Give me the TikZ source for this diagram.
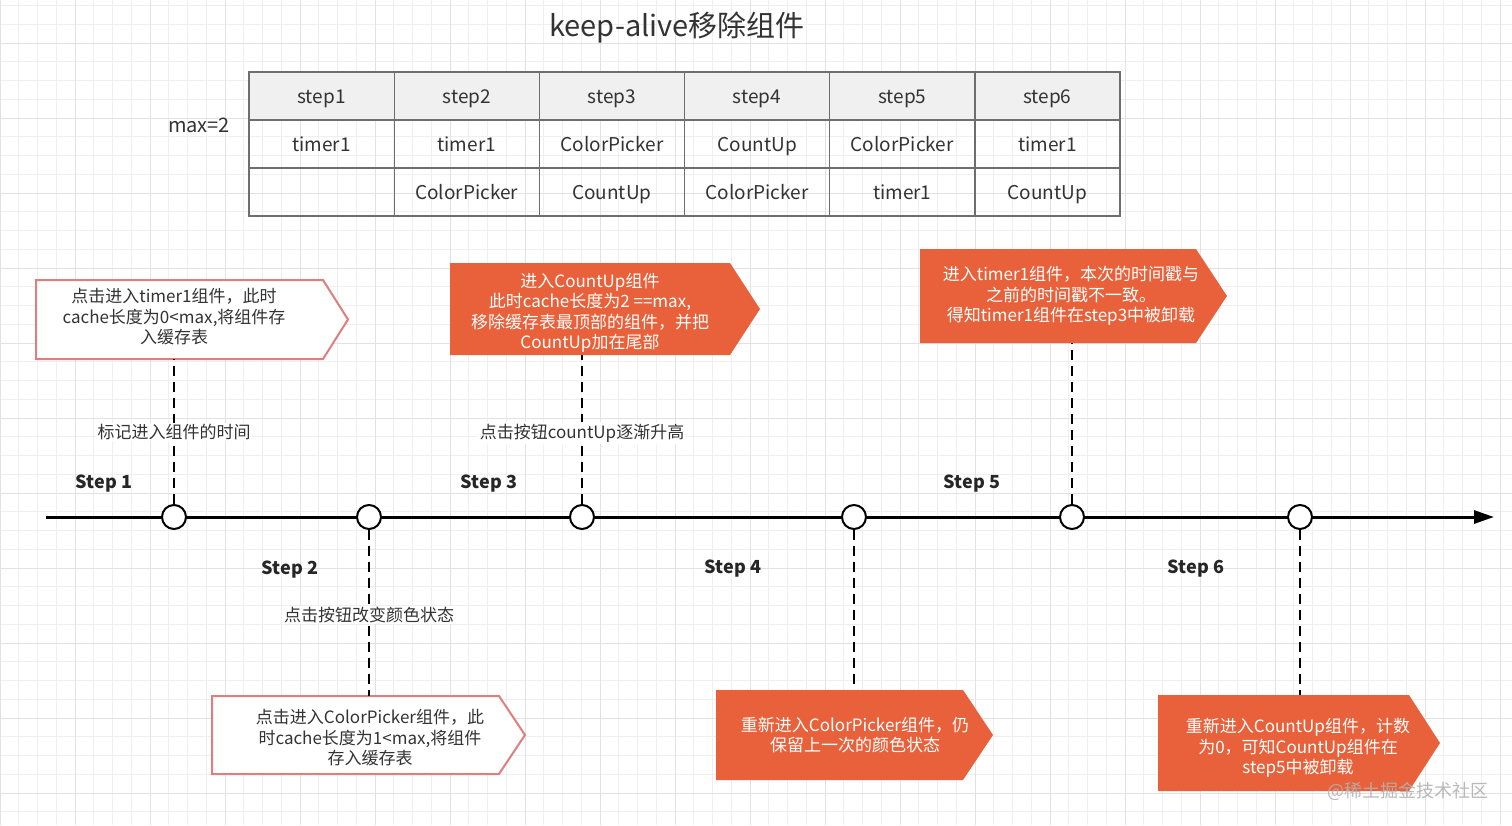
\documentclass[tikz,border=0pt]{standalone}
\usepackage{fontspec}
\setmainfont{Noto Sans CJK SC}
\usetikzlibrary{arrows.meta}
\definecolor{orangefill}{HTML}{E8613A}
\definecolor{pinkline}{HTML}{DE7E7E}
\definecolor{txtgray}{HTML}{333333}
\definecolor{gridminor}{HTML}{EFEFEF}
\definecolor{gridmajor}{HTML}{E2E2E2}
\definecolor{hdrfill}{HTML}{F0F0F0}
\definecolor{tblline}{HTML}{6E6E6E}
\begin{document}
\begin{tikzpicture}[x=1pt,y=-1pt,
  cell/.style={draw=tblline, line width=1.3pt, minimum width=145.17pt, minimum height=48pt, inner sep=0pt, text=txtgray, font=\fontsize{19}{22}\selectfont, text height=16pt, text depth=2pt},
  hdr/.style={cell, fill=hdrfill},
  tnode/.style={circle, draw=black, fill=white, line width=2pt, minimum size=24pt, inner sep=0pt},
  vline/.style={draw=black, line width=2pt, dash pattern=on 10pt off 6pt},
  lbl/.style={fill=white, inner sep=1.5pt, text=txtgray, font=\fontsize{17}{20}\selectfont},
  steplbl/.style={text=black!85, font=\fontsize{18}{22}\selectfont\bfseries, text height=16pt, text depth=2pt},
  ctext/.style={align=center, inner sep=0pt, font=\fontsize{17}{20.5}\selectfont},
  whitebox/.style={fill=white, draw=pinkline, line width=2pt, line join=miter},
  orangebox/.style={fill=orangefill, draw=none},
]
\useasboundingbox (0,0) rectangle (1512,825);
\fill[white] (0,0) rectangle (1512,825);
% grid
\foreach \i in {0,...,80} {\draw[gridminor, line width=1pt] ({\i*18.75},0) -- ({\i*18.75},825);}
\foreach \i in {0,...,43} {\draw[gridminor, line width=1pt] (0,{5.5+\i*18.75}) -- (1512,{5.5+\i*18.75});}
\foreach \i in {0,...,20} {\draw[gridmajor, line width=1pt] ({\i*75},0) -- ({\i*75},825);}
\foreach \i in {0,...,10} {\draw[gridmajor, line width=1pt] (0,{43+\i*75}) -- (1512,{43+\i*75});}

% title
\node[text=txtgray, font=\fontsize{29}{34}\selectfont] (title) at (677,28) {keep-alive移除组件};

% table
\node[text=txtgray, font=\fontsize{20}{24}\selectfont] (maxlbl) at (199,125) {max=2};
\foreach \t [count=\i from 0] in {step1,step2,step3,step4,step5,step6}
  \node[hdr] (h\i) at ({249+72.58+145.17*\i},96) {\t};
\foreach \t [count=\i from 0] in {timer1,timer1,ColorPicker,CountUp,ColorPicker,timer1}
  \node[cell] (ra\i) at ({249+72.58+145.17*\i},144) {\t};
\foreach \t [count=\i from 0] in {{},ColorPicker,CountUp,ColorPicker,timer1,CountUp}
  \node[cell] (rb\i) at ({249+72.58+145.17*\i},192) {\t};

% callout shapes
\path[whitebox] (36,280) -- (323,280) -- (348,319.5) -- (323,359) -- (36,359) -- cycle;
\path[orangebox] (450,263) -- (730,263) -- (760,309) -- (730,355) -- (450,355) -- cycle;
\path[orangebox] (920,249) -- (1196,249) -- (1227,296) -- (1196,343) -- (920,343) -- cycle;
\path[whitebox] (212,696) -- (499,696) -- (525,735) -- (499,774) -- (212,774) -- cycle;
\path[orangebox] (716,690) -- (963,690) -- (993,735) -- (963,780) -- (716,780) -- cycle;
\path[orangebox] (1158,695) -- (1409,695) -- (1440,743) -- (1409,791) -- (1158,791) -- cycle;

\coordinate (b1) at (174,359);
\coordinate (b2) at (369,696);
\coordinate (b3) at (582,355);
\coordinate (b4) at (854,690);
\coordinate (b5) at (1072,343);
\coordinate (b6) at (1300,695);

\node[ctext, text=txtgray] (c1) at (174,317) {点击进入timer1组件，此时\\cache长度为0<max,将组件存\\入缓存表};
\node[ctext, text=white] (c2) at (590,313) {进入CountUp组件\\此时cache长度为2 ==max,\\移除缓存表最顶部的组件，并把\\CountUp加在尾部};
\node[ctext, text=white] (c3) at (1071,296) {进入timer1组件，本次的时间戳与\\之前的时间戳不一致。\\得知timer1组件在step3中被卸载};
\node[ctext, text=txtgray] (c4) at (370,738) {点击进入ColorPicker组件，此\\时cache长度为1<max,将组件\\存入缓存表};
\node[ctext, text=white] (c5) at (855,735) {重新进入ColorPicker组件，仍\\保留上一次的颜色状态};
\node[ctext, text=white] (c6) at (1298,748) {重新进入CountUp组件，计数\\为0，可知CountUp组件在\\step5中被卸载};

% timeline
\coordinate (ls) at (46,517);
\coordinate (le) at (1494,517);
\draw[line width=3pt, -{Triangle[length=20pt,width=13pt]}] (ls) -- (le);

\node[tnode] (t1) at (174,517) {};
\node[tnode] (t2) at (369,517) {};
\node[tnode] (t3) at (582,517) {};
\node[tnode] (t4) at (854,517) {};
\node[tnode] (t5) at (1072,517) {};
\node[tnode] (t6) at (1300,517) {};

\draw[vline] (t1.north) -- (b1);
\draw[vline] (t2.south) -- (b2);
\draw[vline] (t3.north) -- (b3);
\draw[vline] (t4.south) -- (b4);
\draw[vline] (t5.north) -- (b5);
\draw[vline] (t6.south) -- (b6);

\node[lbl] (l1) at (174,432) {标记进入组件的时间};
\node[lbl] (l2) at (369,615) {点击按钮改变颜色状态};
\node[lbl] (l3) at (582,433) {点击按钮countUp逐渐升高};

\node[steplbl] (s1) at (104,481) {Step 1};
\node[steplbl] (s2) at (290,567) {Step 2};
\node[steplbl] (s3) at (489,481) {Step 3};
\node[steplbl] (s4) at (733,566) {Step 4};
\node[steplbl] (s5) at (972,481) {Step 5};
\node[steplbl] (s6) at (1196,566) {Step 6};

% watermark
\node[text=gray!60, opacity=0.9, font=\fontsize{18}{22}\selectfont] (wm) at (1408,791) {@稀土掘金技术社区};
\end{tikzpicture}
\end{document}
